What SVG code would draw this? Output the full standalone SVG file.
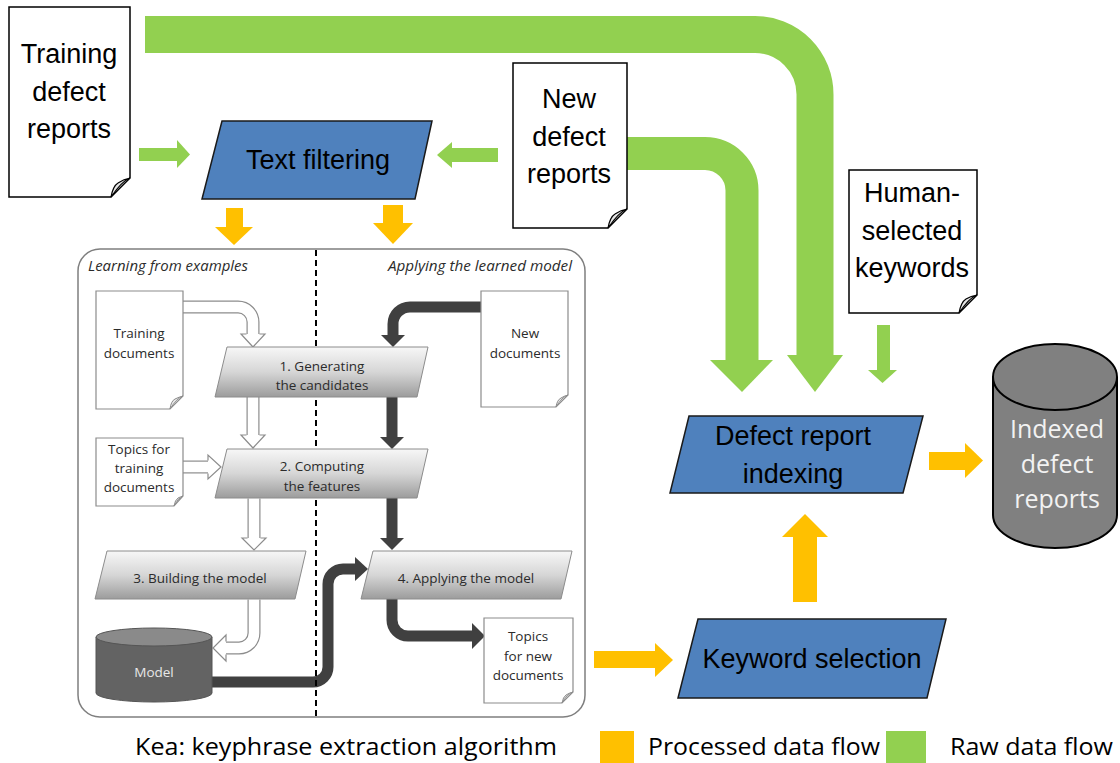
<svg xmlns="http://www.w3.org/2000/svg" width="1120" height="763" viewBox="0 0 1120 763">
<defs>
<linearGradient id="gg" x1="0" y1="0" x2="0" y2="1">
<stop offset="0" stop-color="#f7f7f7"/><stop offset="0.5" stop-color="#d6d6d6"/><stop offset="1" stop-color="#9c9c9c"/>
</linearGradient>
<style>
.doc{fill:#fff;stroke:#000;stroke-width:1.5}
.sdoc{fill:#fff;stroke:#8c8c8c;stroke-width:1.2}
.flap{fill:#e6e6e6;stroke:#000;stroke-width:1.2}
.sflap{fill:#e6e6e6;stroke:#8c8c8c;stroke-width:1}
.blue{fill:#4f81bd;stroke:#1a1a1a;stroke-width:1.5}
.gp{fill:url(#gg);stroke:#8c8c8c;stroke-width:1}
.big{font-family:"Liberation Sans",Arial,sans-serif;font-size:27px;fill:#000;text-anchor:middle}
.kt{font-family:"Open Sans",sans-serif;font-size:13.5px;fill:#2b2b2b;text-anchor:middle}
.ki{font-family:"Open Sans",sans-serif;font-size:14px;font-style:italic;fill:#2b2b2b}
.gr{fill:none;stroke:#92d050}
.gh{fill:#92d050}
.or{fill:#ffc000}
.dk{fill:none;stroke:#404040;stroke-width:11}
.dh{fill:#404040}
.ho{fill:none;stroke:#8c8c8c;stroke-width:13}
.hi{fill:none;stroke:#fff;stroke-width:10.6}
.hh{fill:#fff;stroke:#8c8c8c;stroke-width:1.2}
.leg{font-family:"Open Sans",sans-serif;font-size:23px;fill:#000}
</style>
</defs>
<rect width="1120" height="763" fill="#fff"/>

<g id="connectors">
<path class="gr" stroke-width="37" d="M145 34.5 H755 A60 60 0 0 1 815 94.5 V356"/>
<polygon class="gh" points="787,355 843,355 815,392"/>
<path class="gr" stroke-width="33" d="M627 153.5 H705 A37 37 0 0 1 742 190.5 V361"/>
<polygon class="gh" points="710,360 773,360 742,392"/>
<rect class="gh" x="877" y="325" width="13" height="46"/>
<polygon class="gh" points="868,370 897,370 882.5,383"/>
<rect class="gh" x="139" y="148" width="39" height="13"/>
<polygon class="gh" points="177,140 190,154.5 177,168"/>
<rect class="gh" x="451" y="148" width="47" height="14"/>
<polygon class="gh" points="452,142 437,155 452,168"/>
<rect class="or" x="226" y="208" width="17" height="20"/>
<polygon class="or" points="215,227 253,227 234,245"/>
<rect class="or" x="383" y="205" width="20" height="19"/>
<polygon class="or" points="373,223 413,223 393,244"/>
<rect class="or" x="929" y="452" width="37" height="18"/>
<polygon class="or" points="965,443 983,460.5 965,478"/>
<rect class="or" x="793" y="536" width="24" height="66"/>
<polygon class="or" points="782,537 828,537 805,514"/>
<rect class="or" x="594" y="651" width="62" height="17"/>
<polygon class="or" points="655,643 673,660 655,677"/>
<path class="ho" d="M183 307 H238 A15 15 0 0 1 253 322 V335"/>
<path class="hi" d="M183 307 H238 A15 15 0 0 1 253 322 V336"/>
<path class="hh" d="M246.5 334 H241 L253 347 L265 334 H259.5"/>
<path class="ho" d="M253 397 V436"/>
<path class="hi" d="M253 397 V437"/>
<path class="hh" d="M246.5 435 H241 L253 448 L265 435 H259.5"/>
<path class="ho" d="M254 498.5 V539"/>
<path class="hi" d="M254 498 V540"/>
<path class="hh" d="M247.5 538 H242 L254 550 L266 538 H260.5"/>
<path class="ho" d="M254 599.5 V633 A15 15 0 0 1 239 648 H225"/>
<path class="hi" d="M254 599 V633 A15 15 0 0 1 239 648 H224"/>
<path class="hh" d="M226 641.5 V635 L213 648 L226 661 V654.5"/>
<path class="ho" d="M183 467 H209"/>
<path class="hi" d="M182 467 H210"/>
<path class="hh" d="M208 460.5 V455 L221 467 L208 479 V473.5"/>
<path class="dk" d="M481 307 H410 A17 17 0 0 0 393 324 V336"/>
<polygon class="dh" points="381,335 405,335 393,347"/>
<path class="dk" d="M392 397 V438"/>
<polygon class="dh" points="380,437 404,437 392,449"/>
<path class="dk" d="M392 498 V539"/>
<polygon class="dh" points="380,538 404,538 392,550"/>
<path class="dk" d="M212 682 H313 A15 15 0 0 0 328 667 V584 A15 15 0 0 1 343 569 H356"/>
<polygon class="dh" points="355,557 355,581 368,569"/>
<path class="dk" d="M392 599 V620 A16 16 0 0 0 408 636 H473"/>
<polygon class="dh" points="472,623 472,649 485,636"/>
</g>

<g id="training-defect-reports">
<path class="doc" d="M9 7 H130 V178 L111 197 H9 Z"/>
<path class="flap" d="M111 197 Q113 186 118 183 Q124 179 130 178 Q122 181 111 197 Z"/>
<text class="big" x="69" y="63">Training</text>
<text class="big" x="69" y="101">defect</text>
<text class="big" x="69" y="138">reports</text>
</g>

<g id="text-filtering">
<polygon class="blue" points="222,121 432,121 415,199 202,199"/>
<text class="big" x="318" y="169">Text filtering</text>
</g>

<g id="new-defect-reports">
<path class="doc" d="M513 63 H627 V209 L608 228 H513 Z"/>
<path class="flap" d="M608 228 Q610 217 615 214 Q621 210 627 209 Q619 212 608 228 Z"/>
<text class="big" x="569" y="108">New</text>
<text class="big" x="569" y="146">defect</text>
<text class="big" x="569" y="183">reports</text>
</g>

<g id="human-selected-keywords">
<path class="doc" d="M849 170 H977 V295 L959 313 H849 Z"/>
<path class="flap" d="M959 313 Q961 302 966 299 Q971 296 977 295 Q969 298 959 313 Z"/>
<text class="big" x="912" y="202">Human-</text>
<text class="big" x="912" y="240">selected</text>
<text class="big" x="912" y="277">keywords</text>
</g>

<g id="defect-report-indexing">
<polygon class="blue" points="689,416 923,416 903,493 670,493"/>
<text class="big" x="793" y="445">Defect report</text>
<text class="big" x="793" y="483">indexing</text>
</g>

<g id="indexed-defect-reports">
<path d="M993 377 V515 A62 33 0 0 0 1117 515 V377" fill="#808080" stroke="#000" stroke-width="2"/>
<ellipse cx="1055" cy="377" rx="62" ry="33" fill="#808080" stroke="#000" stroke-width="2"/>
<text x="1057" y="438" font-family="'Open Sans',sans-serif" font-size="25" fill="#f2f2f2" text-anchor="middle">Indexed</text>
<text x="1057" y="473" font-family="'Open Sans',sans-serif" font-size="25" fill="#f2f2f2" text-anchor="middle">defect</text>
<text x="1057" y="508" font-family="'Open Sans',sans-serif" font-size="25" fill="#f2f2f2" text-anchor="middle">reports</text>
</g>

<g id="keyword-selection">
<polygon class="blue" points="698,619 946,619 927,698 678,698"/>
<text class="big" x="812" y="668">Keyword selection</text>
</g>

<g id="kea">
<rect x="78" y="249" width="507" height="468" rx="22" fill="none" stroke="#7f7f7f" stroke-width="1.5"/>
<line x1="316" y1="250" x2="316" y2="717" stroke="#000" stroke-width="2" stroke-dasharray="6,4"/>
<text class="ki" x="88" y="271" textLength="160" lengthAdjust="spacingAndGlyphs">Learning from examples</text>
<text class="ki" x="388" y="271" textLength="184" lengthAdjust="spacingAndGlyphs">Applying the learned model</text>
</g>

<g id="training-documents">
<path class="sdoc" d="M96 291 H183 V396 L170 409 H96 Z"/>
<path class="sflap" d="M170 409 Q171 401 175 399 Q179 397 183 396 Q177 398 170 409 Z"/>
<text class="kt" x="139" y="338">Training</text>
<text class="kt" x="139" y="358">documents</text>
</g>

<g id="topics-training">
<path class="sdoc" d="M96 438 H183 V496 L174 506 H96 Z"/>
<path class="sflap" d="M174 506 Q175 500 178 498 Q180 497 183 496 Q178 498 174 506 Z"/>
<text class="kt" x="139" y="454">Topics for</text>
<text class="kt" x="139" y="473">training</text>
<text class="kt" x="139" y="492">documents</text>
</g>

<g id="new-documents">
<path class="sdoc" d="M481 291 H568 V395 L556 407 H481 Z"/>
<path class="sflap" d="M556 407 Q557 400 561 398 Q564 396 568 395 Q562 397 556 407 Z"/>
<text class="kt" x="525" y="338">New</text>
<text class="kt" x="525" y="358">documents</text>
</g>

<g id="topics-new">
<path class="sdoc" d="M484 618 H573 V692 L562 703 H484 Z"/>
<path class="sflap" d="M562 703 Q563 697 566 695 Q569 693 573 692 Q567 694 562 703 Z"/>
<text class="kt" x="528" y="641">Topics</text>
<text class="kt" x="528" y="661">for new</text>
<text class="kt" x="528" y="680">documents</text>
</g>

<g id="step1">
<polygon class="gp" points="227,347 428,347 417,397 215,397"/>
<text class="kt" x="322" y="371">1. Generating</text>
<text class="kt" x="322" y="390">the candidates</text>
</g>
<g id="step2">
<polygon class="gp" points="227,449 428,449 417,498 215,498"/>
<text class="kt" x="322" y="471">2. Computing</text>
<text class="kt" x="322" y="491">the features</text>
</g>
<g id="step3">
<polygon class="gp" points="107,551 306,551 295,599 95,599"/>
<text class="kt" x="200" y="583">3. Building the model</text>
</g>
<g id="step4">
<polygon class="gp" points="373,551 572,551 561,599 361,599"/>
<text class="kt" x="466" y="583">4. Applying the model</text>
</g>

<g id="model">
<path d="M96 637 V693 A58 9 0 0 0 212 693 V637" fill="#636363" stroke="#555" stroke-width="1"/>
<ellipse cx="154" cy="637" rx="58" ry="9" fill="#8a8a8a" stroke="#555" stroke-width="1"/>
<text class="kt" x="154" y="677" style="fill:#e8e8e8">Model</text>
</g>

<g id="legend">
<text class="leg" x="135" y="755" textLength="422" lengthAdjust="spacingAndGlyphs">Kea: keyphrase extraction algorithm</text>
<rect x="600" y="731" width="34" height="32" fill="#ffc000"/>
<text class="leg" x="648" y="755" textLength="232" lengthAdjust="spacingAndGlyphs">Processed data flow</text>
<rect x="886" y="731" width="40" height="32" fill="#92d050"/>
<text class="leg" x="950" y="755" textLength="163" lengthAdjust="spacingAndGlyphs">Raw data flow</text>
</g>
</svg>
